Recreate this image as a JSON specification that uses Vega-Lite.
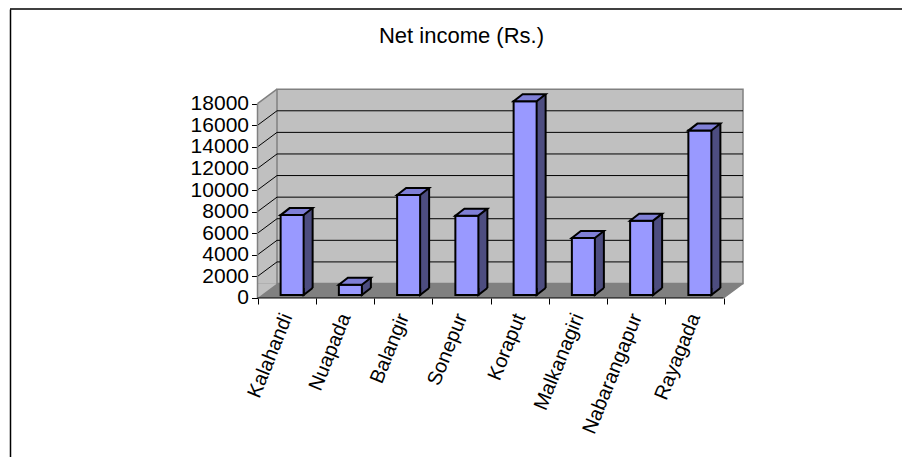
{
  "$schema": "https://vega.github.io/schema/vega-lite/v6.json",
  "width": 892,
  "height": 448,
  "autosize": "none",
  "padding": {"left": 10, "top": 9, "right": 0, "bottom": 0},
  "background": "white",
  "config": {"font": "Liberation Sans", "view": {"stroke": null, "fill": null}},
  "title": {"text": "Net income (Rs.)", "fontSize": 22, "fontWeight": "normal", "color": "black", "anchor": "middle", "frame": "group", "offset": 0, "baseline": "middle", "dy": 50, "dx": 5.5},
  "resolve": {"axis": {"y": "independent"}},
  "datasets": {
    "bars": [
      {"district": "Kalahandi", "income": 7400},
      {"district": "Nuapada", "income": 950},
      {"district": "Balangir", "income": 9270},
      {"district": "Sonepur", "income": 7350},
      {"district": "Koraput", "income": 17950},
      {"district": "Malkanagiri", "income": 5280},
      {"district": "Nabarangapur", "income": 6890},
      {"district": "Rayagada", "income": 15230}
    ],
    "grid": [{"v": 2000}, {"v": 4000}, {"v": 6000}, {"v": 8000}, {"v": 10000}, {"v": 12000}, {"v": 14000}, {"v": 16000}]
  },
  "layer": [
    {
      "data": {"values": [{}]},
      "mark": {"type": "rule", "color": "black", "strokeWidth": 1.5},
      "encoding": {
        "y": {"datum": 26773, "type": "quantitative", "scale": {"type": "linear", "domain": [-14730, 26773], "nice": false, "zero": false},
          "axis": {"orient": "left", "offset": 0, "domain": true, "domainColor": "black", "domainWidth": 1.5, "ticks": false, "labels": false, "title": null, "grid": false}}
      }
    },
    {
      "data": {"values": [{}]},
      "mark": {"type": "rect", "fill": "#C0C0C0", "strokeWidth": 0, "x2Offset": 19.5, "y2Offset": -14.5},
      "encoding": {
        "x": {"datum": "Kalahandi", "bandPosition": 0, "type": "nominal", "scale": {"type": "band", "domain": ["Kalahandi", "Nuapada", "Balangir", "Sonepur", "Koraput", "Malkanagiri", "Nabarangapur", "Rayagada"], "range": [247.5, 713.5], "paddingInner": 0, "paddingOuter": 0}},
        "x2": {"datum": "Rayagada", "bandPosition": 1},
        "y": {"datum": 0, "type": "quantitative", "axis": null},
        "y2": {"datum": 18000}
      }
    },
    {
      "data": {"values": [{}]},
      "mark": {"type": "rect", "fill": "#808080", "strokeWidth": 0, "x2Offset": 19.5, "y2Offset": -14.5},
      "encoding": {
        "x": {"datum": "Kalahandi", "bandPosition": 0, "type": "nominal"},
        "x2": {"datum": "Rayagada", "bandPosition": 1},
        "y": {"datum": 0, "type": "quantitative", "axis": null},
        "y2": {"datum": 0}
      }
    },
    {
      "data": {"values": [{}]},
      "mark": {"type": "point", "shape": "M 0 0 L 0 1 L 22 1 L 22 -15 L 19.5 -14.5 Z", "size": 4, "filled": true, "fill": "white", "strokeWidth": 0, "opacity": 1},
      "encoding": {
        "x": {"datum": "Rayagada", "bandPosition": 1, "type": "nominal"},
        "y": {"datum": 0, "type": "quantitative", "axis": null}
      }
    },
    {
      "data": {"values": [{}]},
      "mark": {"type": "point", "shape": "M 0 0 L 0 -14.5 L 19.5 -14.5 Z", "size": 4, "filled": true, "fill": "#C0C0C0", "strokeWidth": 0, "opacity": 1},
      "encoding": {
        "x": {"datum": "Kalahandi", "bandPosition": 0, "type": "nominal"},
        "y": {"datum": 0, "type": "quantitative", "axis": null}
      }
    },
    {
      "data": {"values": [{}]},
      "mark": {"type": "point", "shape": "M 0 0 L -1 0 L -1 -16 L 19.5 -16 L 19.5 -14.5 Z", "size": 4, "filled": true, "fill": "white", "strokeWidth": 0, "opacity": 1},
      "encoding": {
        "x": {"datum": "Kalahandi", "bandPosition": 0, "type": "nominal"},
        "y": {"datum": 18000, "type": "quantitative", "axis": null}
      }
    },
    {
      "data": {"values": [{}]},
      "mark": {"type": "rect", "filled": false, "stroke": "#808080", "strokeWidth": 1.5, "xOffset": 19.5, "x2Offset": 19.5, "yOffset": -14.5, "y2Offset": -14.5},
      "encoding": {
        "x": {"datum": "Kalahandi", "bandPosition": 0, "type": "nominal"},
        "x2": {"datum": "Rayagada", "bandPosition": 1},
        "y": {"datum": 0, "type": "quantitative", "axis": null},
        "y2": {"datum": 18000}
      }
    },
    {
      "data": {"name": "grid"},
      "mark": {"type": "rule", "color": "black", "strokeWidth": 1, "xOffset": 19.5, "x2Offset": 19.5, "yOffset": -14.5},
      "encoding": {
        "x": {"datum": "Kalahandi", "bandPosition": 0, "type": "nominal"},
        "x2": {"datum": "Rayagada", "bandPosition": 1},
        "y": {"field": "v", "type": "quantitative", "axis": null}
      }
    },
    {
      "data": {"name": "grid"},
      "mark": {"type": "rule", "color": "black", "strokeWidth": 1, "x2Offset": 19.5, "y2Offset": -14.5},
      "encoding": {
        "x": {"datum": "Kalahandi", "bandPosition": 0, "type": "nominal"},
        "x2": {"datum": "Kalahandi", "bandPosition": 0},
        "y": {"field": "v", "type": "quantitative", "axis": null},
        "y2": {"field": "v"}
      }
    },
    {
      "data": {"values": [{}]},
      "mark": {"type": "rule", "color": "#808080", "strokeWidth": 1.5, "x2Offset": 19.5, "y2Offset": -14.5},
      "encoding": {
        "x": {"datum": "Kalahandi", "bandPosition": 0, "type": "nominal"},
        "x2": {"datum": "Kalahandi", "bandPosition": 0},
        "y": {"datum": 18000, "type": "quantitative", "axis": null},
        "y2": {"datum": 18000}
      }
    },
    {
      "data": {"values": [{}]},
      "mark": {"type": "rule", "color": "#808080", "strokeWidth": 1.5, "x2Offset": 19.5, "y2Offset": -14.5},
      "encoding": {
        "x": {"datum": "Rayagada", "bandPosition": 1, "type": "nominal"},
        "x2": {"datum": "Rayagada", "bandPosition": 1},
        "y": {"datum": 0, "type": "quantitative", "axis": null},
        "y2": {"datum": 0}
      }
    },
    {
      "data": {"values": [{}]},
      "mark": {"type": "rule", "color": "#808080", "strokeWidth": 1.5},
      "encoding": {
        "x": {"datum": "Kalahandi", "bandPosition": 0, "type": "nominal"},
        "y": {"datum": 0, "type": "quantitative", "axis": null},
        "y2": {"datum": 18000}
      }
    },
    {
      "data": {"values": [{}]},
      "mark": {"type": "rule", "color": "black", "strokeWidth": 1},
      "encoding": {
        "x": {"datum": "Kalahandi", "bandPosition": 0, "type": "nominal"},
        "x2": {"datum": "Rayagada", "bandPosition": 1},
        "y": {"datum": 0, "type": "quantitative", "axis": null}
      }
    },
    {
      "data": {"name": "bars"},
      "mark": {"type": "bar", "fill": "#4D4D80", "strokeWidth": 0, "width": {"band": 0.395}, "xOffset": 14.5, "yOffset": -10, "y2Offset": -10},
      "encoding": {
        "x": {"field": "district", "type": "nominal"},
        "y": {"field": "income", "type": "quantitative", "axis": null}
      }
    },
    {
      "data": {"name": "bars"},
      "mark": {"type": "rule", "color": "black", "strokeWidth": 2, "xOffset": 26, "yOffset": -10, "y2Offset": -10},
      "encoding": {
        "x": {"field": "district", "type": "nominal"},
        "y": {"field": "income", "type": "quantitative", "axis": null},
        "y2": {"datum": 0}
      }
    },
    {
      "data": {"name": "bars"},
      "mark": {"type": "point", "shape": "M 11.5 -7 L 11.5 0 L 20.5 -7", "size": 4, "filled": true, "fill": "#4D4D80", "stroke": "black", "strokeWidth": 2, "opacity": 1, "xOffset": 5.5, "yOffset": -3},
      "encoding": {
        "x": {"field": "district", "type": "nominal"},
        "y": {"datum": 0, "type": "quantitative", "axis": null}
      }
    },
    {
      "data": {"name": "bars"},
      "mark": {"type": "bar", "fill": "#9999FF", "stroke": "black", "strokeWidth": 2, "width": {"band": 0.395}, "xOffset": 5.5, "yOffset": -3, "y2Offset": -3},
      "encoding": {
        "x": {"field": "district", "type": "nominal", "scale": {"type": "band", "domain": ["Kalahandi", "Nuapada", "Balangir", "Sonepur", "Koraput", "Malkanagiri", "Nabarangapur", "Rayagada"], "range": [247.5, 713.5], "paddingInner": 0, "paddingOuter": 0},
          "axis": {"title": null, "orient": "bottom", "offset": -159, "domain": false, "ticks": true, "tickBand": "extent", "tickColor": "black", "tickSize": 6, "tickWidth": 1, "labelAngle": -68, "labelAlign": "right", "labelBaseline": "middle", "labelFontSize": 20, "labelColor": "black", "labelPadding": 10, "grid": false, "labelOverlap": false, "labelLimit": 300}},
        "y": {"field": "income", "type": "quantitative",
          "axis": {"title": null, "orient": "left", "offset": -247.5, "values": [0, 2000, 4000, 6000, 8000, 10000, 12000, 14000, 16000, 18000], "format": "d", "domain": false, "grid": false, "tickColor": "black", "tickSize": 6, "tickWidth": 1, "labelFontSize": 21, "labelColor": "black", "labelPadding": 3, "labelOverlap": false, "labelFlush": false, "labelBound": false}}
      }
    },
    {
      "data": {"name": "bars"},
      "mark": {"type": "point", "shape": "M -11.5 0 L 11.5 0 L 20.5 -7 L -2.5 -7 Z", "size": 4, "filled": true, "fill": "#7F7FD6", "stroke": "black", "strokeWidth": 2, "opacity": 1, "xOffset": 5.5, "yOffset": -3},
      "encoding": {
        "x": {"field": "district", "type": "nominal"},
        "y": {"field": "income", "type": "quantitative", "axis": null}
      }
    }
  ]
}
